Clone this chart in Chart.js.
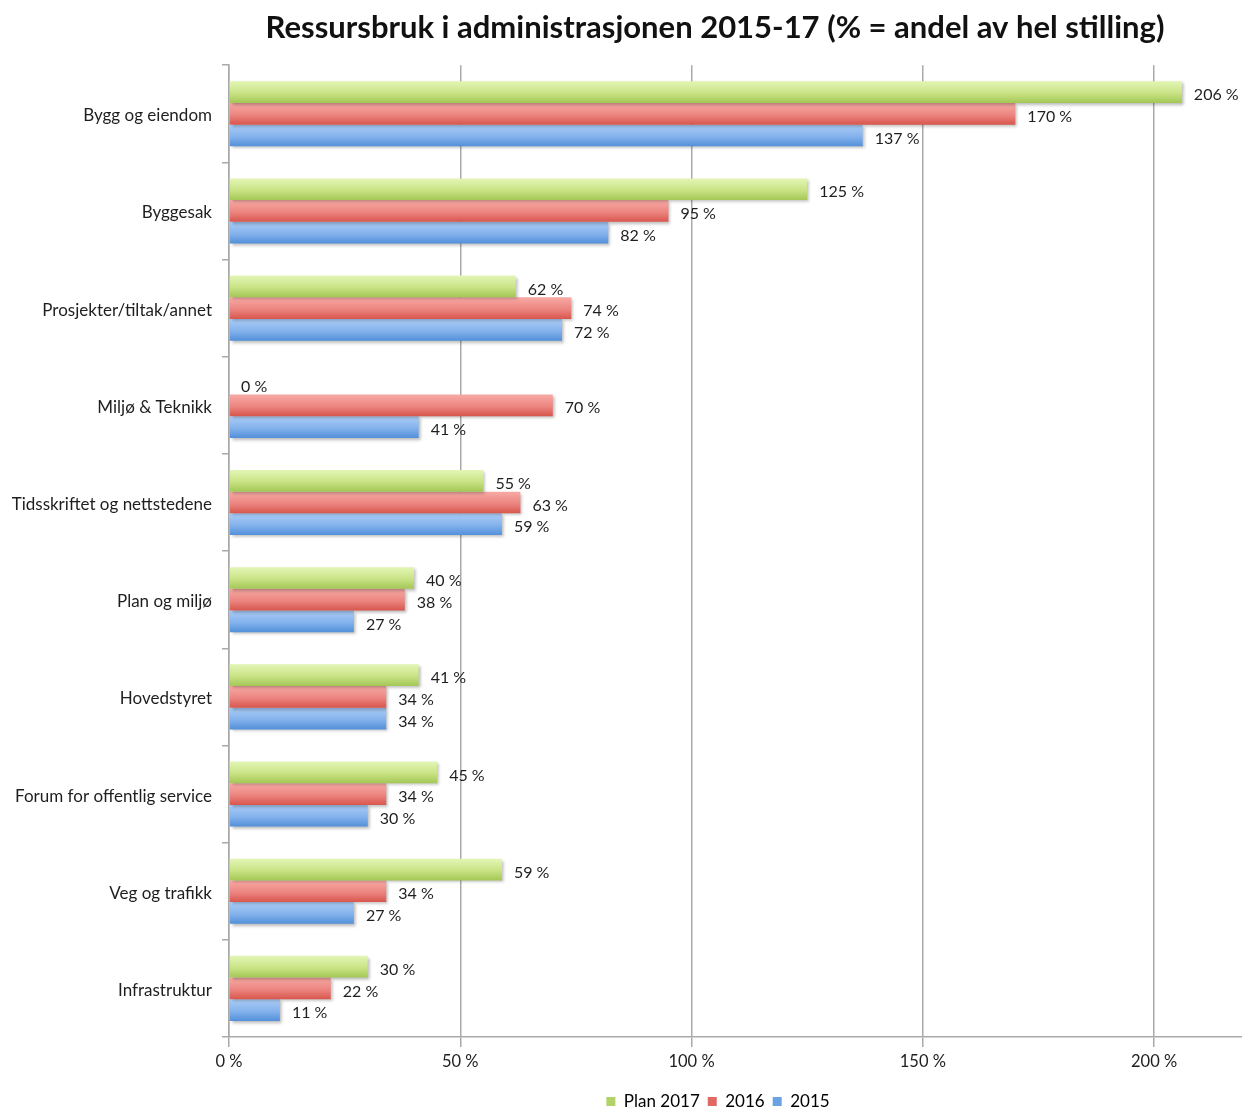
<!DOCTYPE html>
<html>
<head>
<meta charset="utf-8">
<title>Ressursbruk i administrasjonen 2015-17</title>
<script src="https://cdn.jsdelivr.net/npm/chart.js@4/dist/chart.umd.min.js"></script>
<style>
    html, body { margin: 0; padding: 0; background: #ffffff; }
    #wrap { width: 1242px; height: 1111px; position: relative; }
</style>
</head>
<body>
<div id="wrap"><canvas id="chart"></canvas></div>
<script>
// ----------------------------------------
// Data
// ----------------------------------------

const categories = [
    "Bygg og eiendom",
    "Byggesak",
    "Prosjekter/tiltak/annet",
    "Miljø & Teknikk",
    "Tidsskriftet og nettstedene",
    "Plan og miljø",
    "Hovedstyret",
    "Forum for offentlig service",
    "Veg og trafikk",
    "Infrastruktur"
];

const seriesNames = ["Plan 2017", "2016", "2015"];

const plan2017 = [206, 125, 62, 0, 55, 40, 41, 45, 59, 30];
const values2016 = [170, 95, 74, 70, 63, 38, 34, 34, 34, 22];
const values2015 = [137, 82, 72, 41, 59, 27, 34, 30, 27, 11];

const xTicks = [0, 50, 100, 150, 200];

// ----------------------------------------
// Styling
// ----------------------------------------

const FONT = "Lato, 'Open Sans', sans-serif";
const CAT_PCT = 0.67;
const TITLE_CENTER_X = 715;
const LEGEND_CENTER_X = 718;

const palette = [
    { top: "#e3f6b6", mid: "#c9e385", bottom: "#a3c755", solid: "#b3d36a" },
    { top: "#f8aaa5", mid: "#ec8580", bottom: "#d8564d", solid: "#e06a63" },
    { top: "#abcdf6", mid: "#84b2ec", bottom: "#5290da", solid: "#6aa2e4" }
];

function barFill(context) {
    const chart = context.chart;
    const yScale = chart.scales.y;
    const colors = palette[context.datasetIndex];
    if (!yScale || context.type !== "data") return colors.solid;

    const center = yScale.getPixelForValue(context.dataIndex);
    const catSize = yScale.height / categories.length;
    const band = catSize * CAT_PCT;
    const top = center - band / 2 + context.datasetIndex * band / 3;
    const bottom = top + band / 3;

    const g = chart.ctx.createLinearGradient(0, top, 0, bottom);
    g.addColorStop(0, colors.top);
    g.addColorStop(0.55, colors.mid);
    g.addColorStop(1, colors.bottom);
    return g;
}

// move title / legend sideways so they sit where the original has them
function shiftBox(box, centerX) {
    if (!box) return;
    const dx = centerX - (box.left + box.right) / 2;
    box.left += dx;
    box.right += dx;
}

const boxShift = {
    id: "boxShift",
    afterLayout(chart) {
        shiftBox(chart.titleBlock, TITLE_CENTER_X);
        shiftBox(chart.legend, LEGEND_CENTER_X);
    }
};

// shadow under the bars + value labels at the bar ends
const barExtras = {
    id: "barExtras",
    beforeDatasetsDraw(chart) {
        const ctx = chart.ctx;
        ctx.save();
        ctx.shadowColor = "rgba(0, 0, 0, 0.28)";
        ctx.shadowBlur = 3;
        ctx.shadowOffsetX = 2;
        ctx.shadowOffsetY = 2;
    },
    afterDatasetsDraw(chart) {
        const ctx = chart.ctx;
        ctx.restore();

        ctx.save();
        ctx.font = "16px " + FONT;
        ctx.fillStyle = "#1e1e1e";
        ctx.textAlign = "left";
        ctx.textBaseline = "middle";
        chart.data.datasets.forEach((ds, di) => {
            const meta = chart.getDatasetMeta(di);
            if (meta.hidden) return;
            meta.data.forEach((bar, i) => {
                ctx.fillText(ds.data[i] + " %", bar.x + 12, bar.y + 3);
            });
        });
        ctx.restore();
    }
};

const datasets = [plan2017, values2016, values2015].map((vals, i) => ({
    label: seriesNames[i],
    data: vals,
    backgroundColor: barFill,
    borderWidth: 0,
    categoryPercentage: CAT_PCT,
    barPercentage: 1.0
}));

new Chart(document.getElementById("chart"), {
    type: "bar",
    data: { labels: categories, datasets: datasets },
    plugins: [boxShift, barExtras],
    options: {
        indexAxis: "y",
        responsive: true,
        maintainAspectRatio: false,
        animation: false,
        devicePixelRatio: 1,
        layout: { padding: { top: 0, right: 0, bottom: -9, left: 0 } },
        plugins: {
            title: {
                display: true,
                text: "Ressursbruk i administrasjonen 2015-17 (% = andel av hel stilling)",
                fullSize: false,
                color: "#111111",
                font: { family: FONT, size: 31, weight: "bold" },
                padding: { top: 9, bottom: 19 }
            },
            legend: {
                position: "bottom",
                fullSize: false,
                labels: {
                    color: "#1e1e1e",
                    font: { family: FONT, size: 17 },
                    boxWidth: 9,
                    boxHeight: 9,
                    padding: 8,
                    generateLabels(chart) {
                        return chart.data.datasets.map((ds, i) => ({
                            text: ds.label,
                            fillStyle: palette[i].solid,
                            strokeStyle: palette[i].solid,
                            lineWidth: 0,
                            hidden: !chart.isDatasetVisible(i),
                            datasetIndex: i
                        }));
                    }
                }
            },
            tooltip: { enabled: false }
        },
        scales: {
            x: {
                min: 0,
                max: 219,
                afterBuildTicks(scale) {
                    scale.ticks = xTicks.map((v) => ({ value: v }));
                },
                ticks: {
                    color: "#1e1e1e",
                    font: { family: FONT, size: 16.5 },
                    padding: 5,
                    callback: (v) => v + " %"
                },
                grid: {
                    color: "#a9a9a9",
                    lineWidth: 1.5,
                    tickLength: 10,
                    drawOnChartArea: true
                },
                border: { color: "#a9a9a9", width: 1.5 },
                afterFit(scale) { scale.height = 48; }
            },
            y: {
                ticks: {
                    color: "#1e1e1e",
                    font: { family: FONT, size: 17 },
                    padding: 10,
                    labelOffset: 2,
                    autoSkip: false
                },
                grid: {
                    offset: true,
                    drawOnChartArea: false,
                    color: "#a9a9a9",
                    lineWidth: 1.5,
                    tickLength: 7
                },
                border: { color: "#a9a9a9", width: 1.5 },
                afterFit(scale) { scale.width = 229; }
            }
        }
    }
});
</script>
</body>
</html>
